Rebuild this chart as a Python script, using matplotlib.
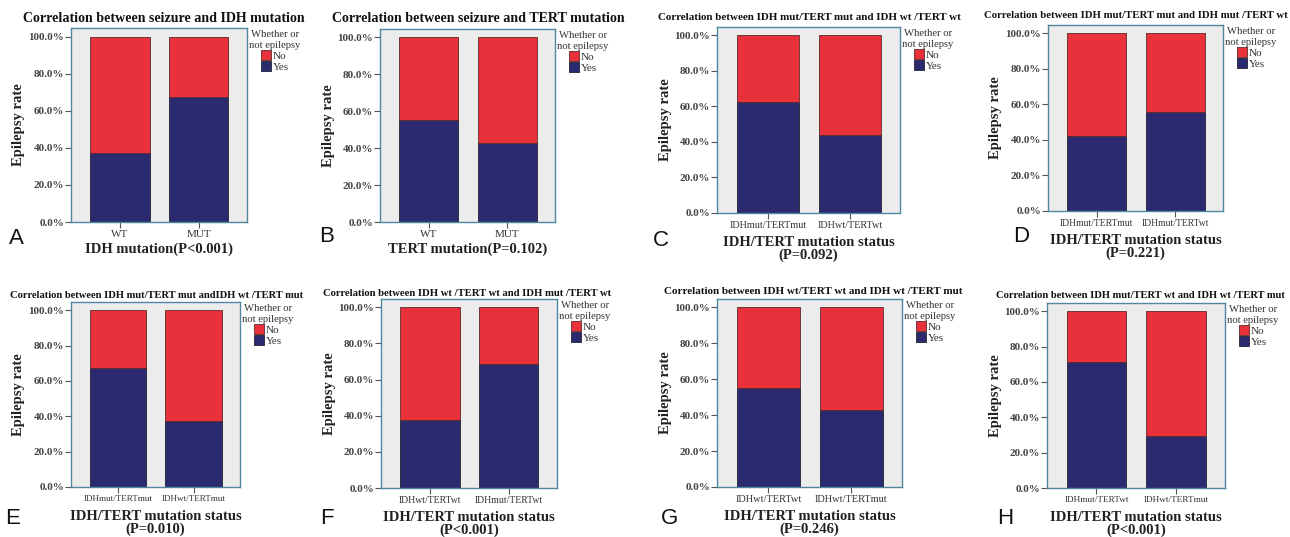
import matplotlib
matplotlib.use("Agg")
import matplotlib.pyplot as plt
from matplotlib.patches import Patch
from matplotlib.ticker import FuncFormatter

# ---------------- data ----------------
panel_letters = ["A", "B", "C", "D", "E", "F", "G", "H"]
titles = [
    "Correlation between seizure and IDH mutation",
    "Correlation between seizure and TERT mutation",
    "Correlation between IDH mut/TERT mut and IDH wt /TERT wt",
    "Correlation between IDH mut/TERT mut and IDH mut /TERT wt",
    "Correlation between IDH mut/TERT mut andIDH wt /TERT mut",
    "Correlation between IDH wt /TERT wt and IDH mut /TERT wt",
    "Correlation between IDH wt/TERT wt and IDH wt /TERT mut",
    "Correlation between IDH mut/TERT wt and IDH wt /TERT mut",
]
xlabels = [
    "IDH mutation(P<0.001)",
    "TERT mutation(P=0.102)",
    "IDH/TERT mutation status\n(P=0.092)",
    "IDH/TERT mutation status\n(P=0.221)",
    "IDH/TERT mutation status\n(P=0.010)",
    "IDH/TERT mutation status\n(P<0.001)",
    "IDH/TERT mutation status\n(P=0.246)",
    "IDH/TERT mutation status\n(P<0.001)",
]
cats_A = ["WT", "MUT"]
cats_B = ["WT", "MUT"]
cats_C = ["IDHmut/TERTmut", "IDHwt/TERTwt"]
cats_D = ["IDHmut/TERTmut", "IDHmut/TERTwt"]
cats_E = ["IDHmut/TERTmut", "IDHwt/TERTmut"]
cats_F = ["IDHwt/TERTwt", "IDHmut/TERTwt"]
cats_G = ["IDHwt/TERTwt", "IDHwt/TERTmut"]
cats_H = ["IDHmut/TERTwt", "IDHwt/TERTmut"]

# percentage of patients with epilepsy ("Yes")
yes_A = [37.3, 67.4]
yes_B = [55.1, 42.8]
yes_C = [62.3, 43.7]
yes_D = [42.2, 55.5]
yes_E = [67.3, 37.1]
yes_F = [37.7, 68.6]
yes_G = [55.1, 42.6]
yes_H = [71.3, 29.6]

legend_title = "Whether or\nnot epilepsy"
legend_labels = ["No", "Yes"]
y_label = "Epilepsy rate"
yticks = [0, 20, 40, 60, 80, 100]

cats_all = [cats_A, cats_B, cats_C, cats_D, cats_E, cats_F, cats_G, cats_H]
yes_all = [yes_A, yes_B, yes_C, yes_D, yes_E, yes_F, yes_G, yes_H]

# ---------------- layout (pixels) ----------------
W, H = 1290, 537
# frame: left, top, right, bottom
frames = [
    (71, 28, 247, 222),
    (380, 29, 555, 222),
    (717, 27, 900, 213),
    (1048, 25, 1223, 211),
    (71, 302, 240, 487),
    (381, 299, 557, 488),
    (717, 299, 902, 487),
    (1047, 303, 1225, 488),
]
title_pos = [  # center x (px), center y (px)
    (164, 18), (478, 18), (809, 18), (1136, 16),
    (157, 295), (467, 293), (813, 292), (1140, 295),
]
title_size = [10.1, 10.1, 7.9, 7.75, 7.6, 7.7, 8.05, 7.6]
letter_pos = [
    (16, 238), (327, 237), (661, 240), (1021, 237),
    (13, 518), (327, 518), (669, 518), (1005, 518),
]
tick_size = [8, 8, 7.3, 6.9, 6.6, 7.0, 7.5, 6.7]

RED = "#E8313A"
NAVY = "#2B2A6E"
FRAME = "#4F86A0"
BG = "#ECECEC"

plt.rcParams["font.family"] = ["Liberation Serif", "DejaVu Serif"]

fig = plt.figure(figsize=(W / 100, H / 100), dpi=100)
fig.patch.set_facecolor("white")

for i in range(8):
    l, t, r, b = frames[i]
    ax = fig.add_axes([l / W, 1 - b / H, (r - l) / W, (b - t) / H])
    ax.set_facecolor(BG)
    yes = yes_all[i]
    no = [100 - v for v in yes]
    x = list(range(len(cats_all[i])))
    ax.bar(x, yes, width=0.75, color=NAVY, edgecolor="#222233", linewidth=0.6, zorder=2)
    ax.bar(x, no, bottom=yes, width=0.75, color=RED, edgecolor="#5a2a2a", linewidth=0.6, zorder=2)
    ax.set_xlim(-0.62, 1.61)
    ax.set_ylim(0, 104.6)
    ax.set_yticks(yticks)
    ax.yaxis.set_major_formatter(FuncFormatter(lambda v, p: f"{v:.1f}%"))
    ax.set_xticks(x)
    ax.set_xticklabels(cats_all[i])
    for s in ax.spines.values():
        s.set_color(FRAME)
        s.set_linewidth(1.0)
    ax.tick_params(axis="y", direction="out", length=4, width=0.8, color="#555555",
                   labelsize=8, labelcolor="#444444", pad=1)
    ax.tick_params(axis="x", direction="out", length=4, width=0.8, color="#555555",
                   labelsize=tick_size[i], labelcolor="#333333", pad=2)
    for lab in ax.get_yticklabels():
        lab.set_fontweight("bold")

    hpx = b - t
    wpx = r - l
    ax.set_ylabel(y_label, fontsize=10.5, fontweight="bold", color="#222222")
    ax.yaxis.set_label_coords(-52 / wpx, 0.5)
    ax.yaxis.label.set_va("center")

    ax.set_xlabel(xlabels[i], fontsize=10.5, fontweight="bold", color="#222222",
                  linespacing=0.95)
    two = "\n" in xlabels[i]
    ax.xaxis.set_label_coords(0.5, -(36 if two else 27) / hpx)
    ax.xaxis.label.set_va("center")

    handles = [Patch(facecolor=RED, edgecolor="#5a2a2a", linewidth=0.6),
               Patch(facecolor=NAVY, edgecolor="#222233", linewidth=0.6)]
    leg = ax.legend(handles, legend_labels, title=legend_title, loc="upper left",
                    bbox_to_anchor=(1.0, 1.0), frameon=False, fontsize=8,
                    title_fontproperties={"size": 7.7}, handlelength=0.95,
                    handleheight=0.95, handletextpad=0.15, labelspacing=0.05,
                    borderpad=0.1, borderaxespad=0.1, alignment="center")
    leg.get_title().set_color("#333333")
    leg.get_title().set_multialignment("center")
    for txt in leg.get_texts():
        txt.set_color("#333333")

    tx, ty = title_pos[i]
    fig.text(tx / W, 1 - ty / H, titles[i], fontsize=title_size[i], fontweight="bold",
             ha="center", va="center", color="#111111")
    lx, ly = letter_pos[i]
    fig.text(lx / W, 1 - ly / H, panel_letters[i], fontsize=16, ha="center", va="center",
             family=["Liberation Sans", "DejaVu Sans"], color="#111111")

fig.savefig("out.png", dpi=100, facecolor="white")
